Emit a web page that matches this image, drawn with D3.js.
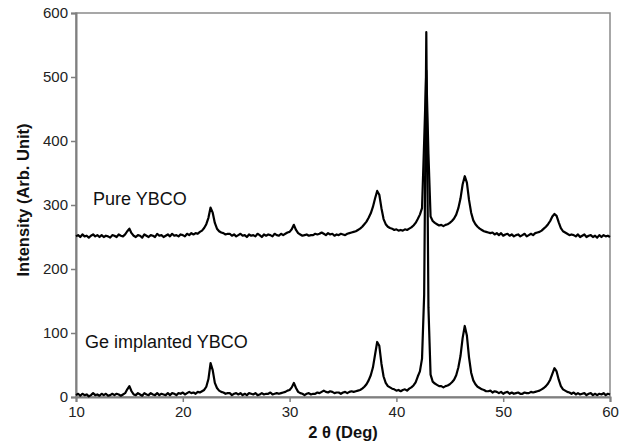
<!DOCTYPE html>
<html lang="en">
<head>
<meta charset="utf-8">
<title>XRD YBCO</title>
<script src="https://cdn.jsdelivr.net/npm/d3@7"></script>
<style>
    body { margin: 0; background: #fff; }
    .tick text { font-family: "Liberation Sans", Arial, sans-serif; font-size: 15px; fill: #222; }
    .tick line, .domain { stroke: #7f7f7f; }
    .label { font-family: "Liberation Sans", Arial, sans-serif; font-size: 18px; fill: #111; }
    .title { font-family: "Liberation Sans", Arial, sans-serif; font-size: 16.5px; font-weight: bold; fill: #111; }
</style>
</head>
<body>
<svg id="chart" width="628" height="447"></svg>
<script>
'use strict';

// scan grid (deg 2theta)
const angleStart = 10, angleStep = 0.2;

// Pure YBCO (offset trace), one value per scan step, 10.0 .. 60.0
const pureYBCO = [
    251,253,250,254,251,252,249,252,254,251,253,250,253,250,252,251,249,253,252,250,254,252,251,
    254,259,263,256,252,
    250,253,252,249,254,252,250,253,252,250,255,252,253,250,252,254,251,255,252,253,251,254,253,251,255,253,256,254,256,255,258,260,264,
    270,280,296,288,272,263,259,
    257,256,254,255,255,252,254,251,253,255,252,253,250,254,252,253,251,255,253,250,254,252,254,253,251,255,253,252,255,253,255,257,
    258,262,269,261,256,
    254,252,253,254,252,253,253,255,254,255,257,255,253,256,254,255,252,254,253,255,254,253,255,256,257,258,259,261,263,266,270,
    274,280,287,297,310,322,316,295,278,270,266,
    264,263,261,262,260,261,260,262,261,263,265,268,272,
    278,285,295,400,510,380,282,
    275,272,270,268,269,267,269,270,272,275,279,285,
    295,310,332,345,335,308,288,276,
    270,266,263,261,259,258,257,256,257,254,256,253,256,252,254,255,252,254,251,253,254,251,253,255,251,253,255,253,256,257,258,260,263,266,
    270,275,282,286,283,273,264,259,
    257,255,253,254,253,251,254,250,252,254,250,252,253,250,252,249,253,250,253,251,252,250
];

// Ge implanted YBCO
const geYBCO = [
    3,5,2,5,3,4,1,3,6,3,4,2,5,3,5,2,3,5,3,5,4,2,4,
    6,12,17,9,4,
    3,6,4,2,6,4,3,6,4,3,6,3,5,4,3,6,3,6,5,3,6,5,7,4,6,8,6,7,5,8,7,9,11,
    16,28,53,42,22,14,10,
    8,7,5,6,6,3,5,6,4,6,3,5,3,6,5,4,6,3,4,6,4,5,5,7,4,5,6,5,6,7,8,10,
    11,15,22,14,8,
    6,5,3,5,6,4,5,5,7,6,8,10,8,7,9,8,6,7,7,5,7,8,6,8,9,8,9,10,11,13,16,
    20,26,34,46,66,86,80,52,32,22,17,
    15,13,12,10,11,9,11,12,10,13,15,18,23,
    32,40,60,160,570,140,35,
    24,21,19,17,17,15,17,18,20,23,27,34,
    46,64,92,111,96,62,38,26,
    20,16,14,12,11,9,9,10,7,9,8,6,8,5,7,8,5,7,5,6,7,5,5,7,6,6,8,7,8,9,10,12,14,17,
    21,27,36,45,40,27,17,12,
    10,8,7,5,7,4,6,4,5,6,3,5,6,3,5,3,5,4,6,3,5,4
];

const xTicks = [10, 20, 30, 40, 50, 60];
const yTicks = [0, 100, 200, 300, 400, 500, 600];

const labels = [
    { text: "Pure YBCO", x: 11.6, y: 300 },
    { text: "Ge implanted YBCO", x: 10.85, y: 76 }
];

const margin = { top: 13, right: 18, bottom: 50, left: 76 },
    width = 628 - margin.left - margin.right,
    height = 447 - margin.top - margin.bottom;

const svg = d3.select("#chart");
const g = svg.append("g").attr("transform", `translate(${margin.left},${margin.top})`);

const x = d3.scaleLinear().domain([10, 60]).range([0, width]);
const y = d3.scaleLinear().domain([0, 600]).range([height, 0]);

const angle = (i) => angleStart + i * angleStep;

// frame
g.append("rect")
    .attr("width", width).attr("height", height)
    .attr("fill", "none").attr("stroke", "#8a8a8a").attr("stroke-width", 1.5);

const xAxis = g.append("g")
    .attr("transform", `translate(0,${height})`)
    .call(d3.axisBottom(x).tickValues(xTicks).tickSize(5).tickPadding(4));
const yAxis = g.append("g")
    .call(d3.axisLeft(y).tickValues(yTicks).tickSize(5).tickPadding(3));
[xAxis, yAxis].forEach(a => {
    a.select(".domain").attr("stroke-width", 2);
    a.selectAll(".tick line").attr("stroke-width", 1.5);
});

const line = d3.line()
    .x((d, i) => x(angle(i)))
    .y(d => y(d));

[pureYBCO, geYBCO].forEach(series => {
    g.append("path")
        .datum(series)
        .attr("d", line)
        .attr("fill", "none")
        .attr("stroke", "#000")
        .attr("stroke-width", 2.2)
        .attr("stroke-linejoin", "round");
});

g.selectAll(".label")
    .data(labels)
    .enter().append("text")
    .attr("class", "label")
    .attr("x", d => x(d.x))
    .attr("y", d => y(d.y))
    .text(d => d.text);

svg.append("text")
    .attr("class", "title")
    .attr("text-anchor", "middle")
    .attr("x", margin.left + width / 2)
    .attr("y", 438)
    .text("2 θ (Deg)");

svg.append("text")
    .attr("class", "title")
    .attr("text-anchor", "middle")
    .attr("transform", `translate(29,${margin.top + height / 2 - 5}) rotate(-90)`)
    .text("Intensity (Arb. Unit)");
</script>
</body>
</html>
